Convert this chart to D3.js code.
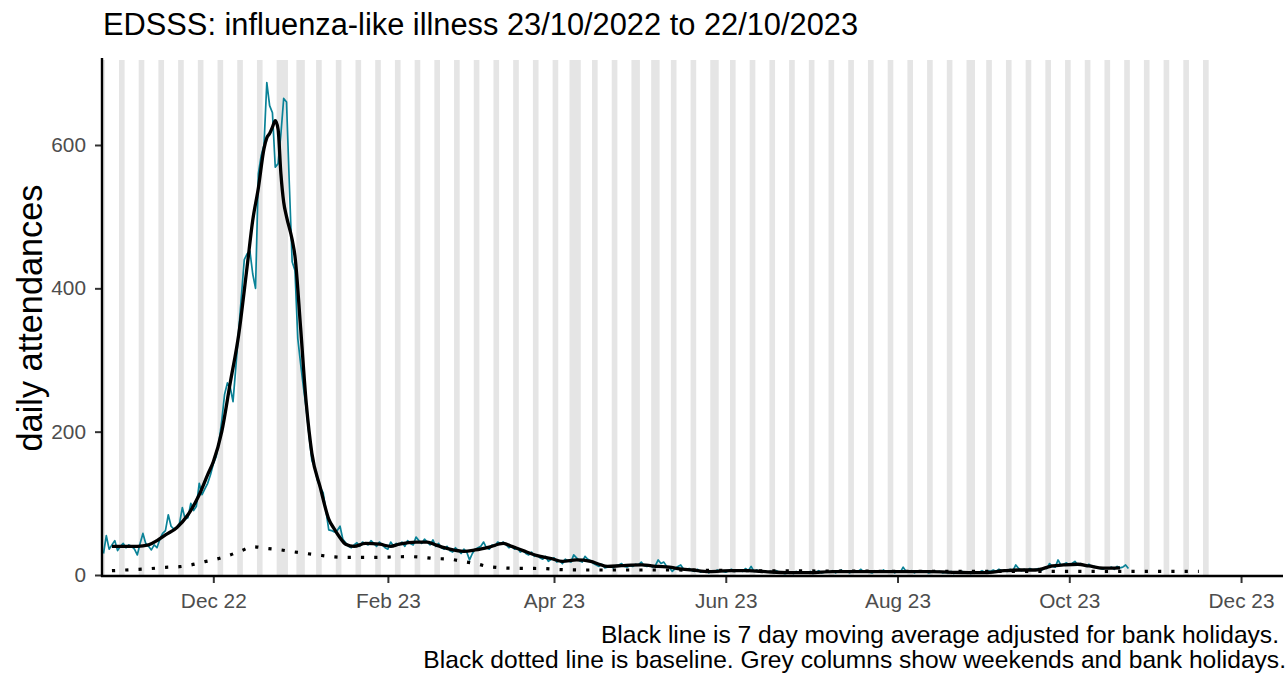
<!DOCTYPE html>
<html><head><meta charset="utf-8">
<script src="https://cdn.jsdelivr.net/npm/d3@7"></script>
<style>
body{margin:0;background:#fff}
svg{display:block}
text{font-family:"Liberation Sans",Arial,Helvetica,sans-serif}
</style>
</head><body>
<svg id="chart" width="1287" height="676"></svg>
<script>
// ---------------- data ----------------
const titleText = "EDSSS: influenza-like illness 23/10/2022 to 22/10/2023";
const yAxisTitle = "daily attendances";
const captionLines = [
  "Black line is 7 day moving average adjusted for bank holidays.",
  "Black dotted line is baseline. Grey columns show weekends and bank holidays."
];

// daily attendances, one value per day starting at startDate
const startDate = "2022-10-23";
const dailyCounts = [
  30, 55, 36, 42, 48, 34, 40,
  44, 38, 42, 40, 36, 28, 44,
  58, 44, 40, 35, 42, 38, 50,
  58, 62, 84, 68, 64, 66, 72,
  94, 78, 80, 100, 90, 96, 128,
  112, 120, 128, 140, 155, 165, 185,
  215, 252, 268, 262, 242, 290, 340,
  390, 440, 448, 452, 420, 400, 560,
  585, 600, 687, 655, 645, 569, 574,
  615, 665, 660, 545, 437, 425, 330,
  295, 262, 232, 195, 160, 150, 132,
  122, 115, 90, 63, 62, 60, 62,
  68, 50, 45, 40, 38,
  42, 45, 40, 46, 44, 42, 48,
  44, 40, 46, 42, 38, 36, 46,
  40, 44, 42, 46, 40, 48, 44,
  42, 53, 48, 44, 50, 46, 42,
  49, 40, 44, 38, 36, 40, 34,
  32, 38, 34, 30, 36, 32, 21,
  30, 36, 38, 40, 46, 38, 36,
  42, 40, 46, 44, 46, 42, 38,
  40, 36, 38, 32, 34, 30, 28,
  32, 26, 28, 24, 22, 26, 19,
  22, 24, 18, 20, 16, 22, 20,
  18, 28, 24, 20, 18, 26, 22,
  20, 16, 14, 12, 15, 10, 11,
  12, 10, 13, 14, 16, 12, 11,
  13, 12, 15, 14, 18, 13, 12,
  14, 11, 13, 21, 16, 18, 12,
  10, 5, 9, 12, 14, 8, 7,
  9, 6, 5, 8, 4, 5, 6,
  3, 5, 4, 7, 6, 5, 4,
  6, 8, 5, 7, 6, 5, 9,
  6, 12, 5, 7, 4, 6, 5,
  4, 5, 3, 6, 4, 3, 2,
  3, 4, 2, 5, 3, 4, 3,
  3, 5, 2, 4, 6, 3, 4,
  5, 4, 6, 3, 5, 7, 4,
  5, 3, 6, 4, 5, 8, 4,
  5, 4, 3, 6, 5, 4, 7,
  4, 5, 6, 3, 5, 4, 11,
  5, 4, 6, 3, 5, 4, 6,
  5, 3, 4, 6, 4, 5, 3,
  4, 3, 5, 2, 4, 3, 5,
  3, 4, 2, 5, 3, 4, 6,
  4, 6, 5, 7, 5, 8, 6,
  7, 5, 8, 6, 14, 9, 6,
  8, 6, 9, 7, 8, 9, 6,
  10, 9, 16, 12, 11, 21, 14,
  15, 17, 14, 16, 19, 14, 16,
  14, 12, 15, 11, 12, 10, 9,
  8, 10, 9, 11, 8, 12, 10,
  11, 14, 9
];

// 7 day moving average
const maDates = [
  "2022-10-26","2022-10-31","2022-11-04","2022-11-08","2022-11-11","2022-11-14","2022-11-18",
  "2022-11-22","2022-11-26","2022-11-29","2022-12-01","2022-12-04","2022-12-07","2022-12-10",
  "2022-12-13","2022-12-15","2022-12-17","2022-12-19","2022-12-20","2022-12-21","2022-12-22",
  "2022-12-23","2022-12-24","2022-12-25","2022-12-26","2022-12-27","2022-12-29","2022-12-30",
  "2023-01-01","2023-01-03","2023-01-05","2023-01-08","2023-01-11","2023-01-13","2023-01-15",
  "2023-01-17","2023-01-20","2023-01-24","2023-01-29","2023-02-02","2023-02-05","2023-02-11",
  "2023-02-15","2023-02-18","2023-02-23","2023-02-28","2023-03-04","2023-03-09","2023-03-14",
  "2023-03-17","2023-03-21","2023-03-26","2023-03-31","2023-04-04","2023-04-09","2023-04-14",
  "2023-04-17","2023-04-20","2023-04-25","2023-05-02","2023-05-08","2023-05-12","2023-05-15",
  "2023-05-20","2023-05-26","2023-06-03","2023-06-09","2023-06-15","2023-06-23","2023-07-01",
  "2023-07-09","2023-07-25","2023-08-12","2023-08-24","2023-09-01","2023-09-08","2023-09-13",
  "2023-09-19","2023-09-25","2023-09-29","2023-10-04","2023-10-08","2023-10-13","2023-10-19"
];
const maValues = [
  40, 40, 40, 42, 48, 56, 66,
  84, 112, 140, 158, 200, 268, 335,
  430, 495, 540, 595, 610, 616, 625,
  634, 622, 560, 520, 500, 468, 445,
  345, 240, 170, 122, 78, 64, 52,
  43, 40, 44, 43, 40, 43, 46,
  46, 42, 36, 33, 35, 39, 44,
  40, 34, 27, 23, 19, 21, 19,
  15, 12, 13, 14, 12, 11, 9,
  7, 4.7, 6, 6, 4.7, 3.3, 3.3,
  4.7, 4.7, 4.7, 3.5, 3.3, 6, 7,
  7, 12.6, 14, 15, 12.6, 9.5, 10
];

// baseline (dotted line)
const baseDates = [
  "2022-10-26","2022-10-31","2022-11-09","2022-11-14","2022-11-19","2022-11-23","2022-11-28",
  "2022-12-02","2022-12-07","2022-12-11","2022-12-15","2022-12-20","2022-12-25","2022-12-29",
  "2023-01-03","2023-01-07","2023-01-12","2023-01-17","2023-01-26","2023-02-09","2023-02-18",
  "2023-02-23","2023-02-28","2023-03-04","2023-03-09","2023-03-18","2023-03-28","2023-04-01",
  "2023-04-10","2023-05-11","2023-06-10","2023-07-10","2023-08-19","2023-11-16"
];
const baseValues = [
  6, 7, 9, 10.7, 11.6, 14, 18.6,
  22, 28, 34, 39.5, 37, 35, 32.6,
  30, 28, 25.6, 24.6, 24.6, 25.6, 23,
  22, 18.6, 16, 11.6, 9.3, 9, 8,
  7, 7, 6, 5.5, 5, 5
];

// grey columns: weekends between these dates, plus bank holidays
const shadeStart = "2022-10-23";
const shadeEnd = "2023-11-19";
const bankHolidays = ["2022-12-26","2022-12-27","2023-01-02","2023-04-07","2023-04-10",
                      "2023-05-01","2023-05-08","2023-05-29","2023-08-28"];

const xDomain = ["2022-10-22T11:13:00Z", "2023-12-15T21:36:00Z"];
const xTickDates = ["2022-12-01","2023-02-01","2023-04-01","2023-06-01","2023-08-01","2023-10-01","2023-12-01"];
const xTickLabels = ["Dec 22","Feb 23","Apr 23","Jun 23","Aug 23","Oct 23","Dec 23"];
const yTicks = [0, 200, 400, 600];
const yMax = 718.6;

// ---------------- drawing ----------------
(function () {
const parseDay = d3.utcParse("%Y-%m-%d");
const DAY = 86400000;
const svg = d3.select("#chart");

const pLeft = 102, pRight = 1283, pTop = 60, pBottom = 575, axisY = 576;
const x = d3.scaleUtc().domain(xDomain.map(s => new Date(s))).range([pLeft, pRight]);
const y = d3.scaleLinear().domain([0, yMax]).range([pBottom, pTop]);

// shaded columns (merge consecutive days)
const holidaySet = new Set(bankHolidays);
const fmt = d3.utcFormat("%Y-%m-%d");
const days = d3.utcDay.range(parseDay(shadeStart), d3.utcDay.offset(parseDay(shadeEnd), 1));
const runs = [];
days.forEach(d => {
  const shaded = d.getUTCDay() === 0 || d.getUTCDay() === 6 || holidaySet.has(fmt(d));
  if (!shaded) return;
  const last = runs[runs.length - 1];
  if (last && +last.end === +d) { last.end = new Date(+d + DAY); }
  else runs.push({start: d, end: new Date(+d + DAY)});
});
const rx0 = r => Math.max(pLeft, x(new Date(+r.start - DAY / 2)));
svg.append("g").selectAll("rect").data(runs).join("rect")
  .attr("x", rx0)
  .attr("width", r => x(new Date(+r.end - DAY / 2)) - rx0(r))
  .attr("y", pTop)
  .attr("height", axisY - pTop)
  .attr("fill", "#e5e5e5");

// daily series
const start = parseDay(startDate);
const daily = dailyCounts.map((v, i) => ({date: d3.utcDay.offset(start, i), value: v}));
svg.append("path").datum(daily)
  .attr("fill", "none").attr("stroke", "#0a8297").attr("stroke-width", 1.7)
  .attr("stroke-linejoin", "round")
  .attr("d", d3.line().x(d => x(d.date)).y(d => y(d.value)));

// baseline dotted
const base = baseDates.map((d, i) => ({date: parseDay(d), value: baseValues[i]}));
svg.append("path").datum(base)
  .attr("fill", "none").attr("stroke", "#000").attr("stroke-width", 3.2)
  .attr("stroke-dasharray", "3.2 10.1")
  .attr("d", d3.line().curve(d3.curveMonotoneX).x(d => x(d.date)).y(d => y(d.value)));

// moving average
const ma = maDates.map((d, i) => ({date: parseDay(d), value: maValues[i]}));
svg.append("path").datum(ma)
  .attr("fill", "none").attr("stroke", "#000").attr("stroke-width", 3.3)
  .attr("stroke-linejoin", "round")
  .attr("d", d3.line().curve(d3.curveMonotoneX).x(d => x(d.date)).y(d => y(d.value)));

// axes
const yAxis = svg.append("g").attr("transform", `translate(${pLeft},0)`)
  .call(d3.axisLeft(y).tickValues(yTicks).tickSize(7).tickPadding(9).tickSizeOuter(0));
const xAxis = svg.append("g").attr("transform", `translate(0,${axisY})`)
  .call(d3.axisBottom(x).tickValues(xTickDates.map(parseDay))
    .tickFormat((d, i) => xTickLabels[i]).tickSize(7).tickPadding(10).tickSizeOuter(0));
[yAxis, xAxis].forEach(g => {
  g.select(".domain").remove();
  g.selectAll(".tick line").attr("stroke", "#333").attr("stroke-width", 2);
  g.selectAll(".tick text").attr("fill", "#4d4d4d").style("font-size", "20.8px")
    .style("font-family", '"Liberation Sans",Arial,sans-serif');
});
svg.append("line").attr("x1", pLeft).attr("x2", pLeft).attr("y1", pTop - 2).attr("y2", axisY + 1)
  .attr("stroke", "#000").attr("stroke-width", 2.4);
svg.append("line").attr("x1", pLeft - 1).attr("x2", pRight).attr("y1", axisY).attr("y2", axisY)
  .attr("stroke", "#000").attr("stroke-width", 2.4);

// texts
svg.append("text").attr("x", 103).attr("y", 35).attr("fill", "#000")
  .style("font-size", "30.8px").text(titleText);
svg.append("text").attr("transform", `translate(42,${(pTop + axisY) / 2}) rotate(-90)`)
  .attr("text-anchor", "middle").attr("fill", "#000").style("font-size", "34.3px").text(yAxisTitle);
svg.append("text").attr("x", 1279).attr("y", 643).attr("text-anchor", "end").attr("fill", "#000")
  .style("font-size", "24.6px").text(captionLines[0]);
svg.append("text").attr("x", 1286).attr("y", 668).attr("text-anchor", "end").attr("fill", "#000")
  .style("font-size", "24.6px").text(captionLines[1]);
})();
</script>
</body></html>
